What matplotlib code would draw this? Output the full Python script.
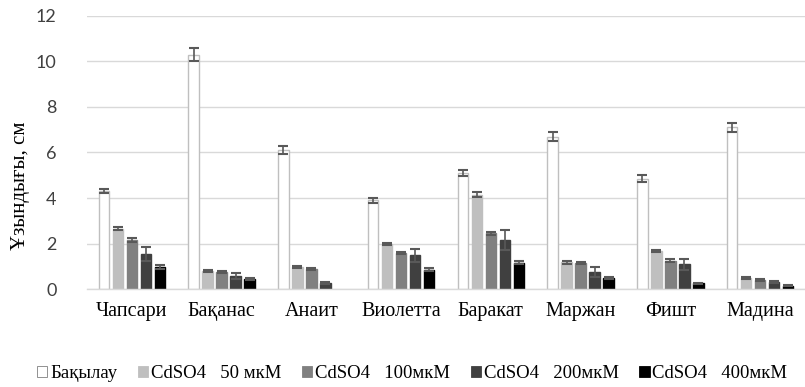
import numpy as np
from matplotlib import pyplot as plt
from matplotlib.patches import Patch

# сорттар
varieties = ['Чапсари', 'Бақанас', 'Анаит', 'Виолетта', 'Баракат', 'Маржан', 'Фишт', 'Мадина']
labels = ['Бақылау', 'CdSO4   50 мкМ', 'CdSO4   100мкМ', 'CdSO4   200мкМ', 'CdSO4   400мкМ']

control = [4.3, 10.3, 6.1, 3.9, 5.1, 6.7, 4.85, 7.1]
cd50 = [2.65, 0.78, 0.97, 1.98, 4.15, 1.17, 1.67, 0.48]
cd100 = [2.15, 0.75, 0.88, 1.58, 2.45, 1.14, 1.25, 0.40]
cd200 = [1.55, 0.58, 0.28, 1.48, 2.15, 0.75, 1.08, 0.30]
cd400 = [0.97, 0.45, 0.0, 0.85, 1.15, 0.48, 0.25, 0.15]

err_control = [0.1, 0.28, 0.17, 0.1, 0.14, 0.18, 0.15, 0.2]
err50 = [0.07, 0.04, 0.04, 0.05, 0.12, 0.05, 0.06, 0.04]
err100 = [0.08, 0.04, 0.04, 0.05, 0.07, 0.05, 0.05, 0.04]
err200 = [0.32, 0.13, 0.05, 0.3, 0.45, 0.2, 0.25, 0.05]
err400 = [0.08, 0.04, 0.0, 0.07, 0.07, 0.04, 0.02, 0.02]

series = [control, cd50, cd100, cd200, cd400]
errors = [err_control, err50, err100, err200, err400]
colors = ['white', '#bfbfbf', '#808080', '#404040', 'black']
edges = ['#bfbfbf', '#bfbfbf', '#808080', '#404040', 'black']

fig = plt.figure(figsize=(8.05, 3.87), dpi=100)
ax = fig.add_axes([0.108, 0.253, 0.892, 0.706])

x = np.arange(len(varieties))
pitch = 0.156
width = 0.117
for i, (vals, errs) in enumerate(zip(series, errors)):
    pos = x + (i - 2) * pitch
    vals = np.array(vals)
    errs = np.array(errs)
    m = vals > 0   # мәні жоқ бағандар салынбайды
    ax.bar(pos[m], vals[m], width, color=colors[i], edgecolor=edges[i], linewidth=1.0, zorder=2)
    ax.errorbar(pos[m], vals[m], yerr=errs[m], fmt='none', ecolor='#595959', elinewidth=1.2,
                capsize=3.5, capthick=1.5, zorder=3)

ax.set_xlim(-0.5, 7.5)
ax.set_ylim(0, 12)
ax.set_yticks([0, 2, 4, 6, 8, 10, 12])
ax.grid(axis='y', color='#d9d9d9', linewidth=1.0, zorder=0)
ax.set_axisbelow(True)
for s in ['top', 'right', 'left']:
    ax.spines[s].set_visible(False)
ax.spines['bottom'].set_color('#d9d9d9')
ax.spines['bottom'].set_linewidth(1.0)
ax.tick_params(axis='both', length=0)
ax.tick_params(axis='y', labelsize=13, labelcolor='#404040', pad=22)
ax.set_xticks(x)
ax.set_xticklabels(varieties, fontsize=14.5, family='Liberation Serif')
ax.tick_params(axis='x', pad=9)
for t in ax.get_yticklabels():
    t.set_family('Lato')

fig.text(0.025, 0.52, 'Ұзындығы, см', rotation=90, ha='center', va='center',
         fontsize=15, family='Liberation Serif')

handles = [Patch(facecolor=colors[i], edgecolor=edges[i] if i else '#808080', linewidth=0.6)
           for i in range(5)]
fig.legend(handles, labels, loc='center', bbox_to_anchor=(0.512, 0.035), ncol=5,
           frameon=False, prop={'family': 'Liberation Serif', 'size': 13.5},
           handlelength=0.55, handleheight=0.55, handletextpad=0.15, columnspacing=1.1)

fig.savefig('out.png', dpi=100)
